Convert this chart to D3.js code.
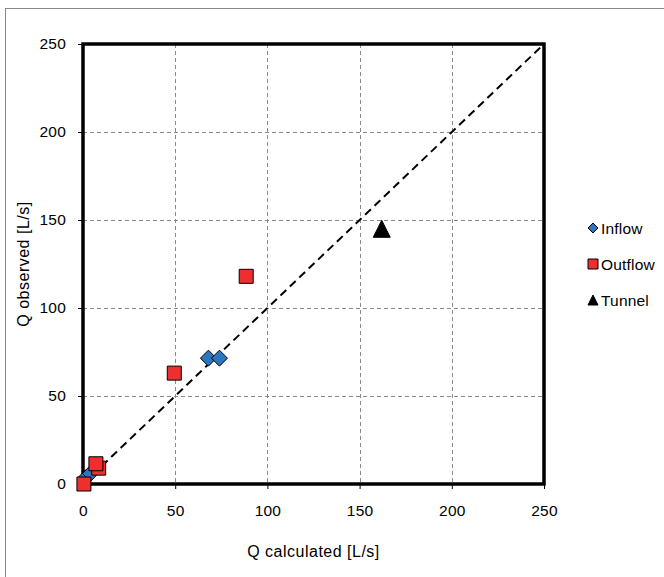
<!DOCTYPE html>
<html>
<head>
<meta charset="utf-8">
<script src="https://cdn.jsdelivr.net/npm/d3@7/dist/d3.min.js"></script>
<style>
  html, body { margin: 0; padding: 0; background: #fff; }
  svg { display: block; font-family: "Liberation Sans", Arial, sans-serif; }
</style>
</head>
<body>
<svg id="chart" width="664" height="577"></svg>
<script>
// ---- data ----
const inflowCalc  = [1.5, 4, 68, 74];
const inflowObs   = [3.5, 6, 71.5, 71.5];
const outflowCalc = [0.5, 8.5, 7, 49.5, 88.5];
const outflowObs  = [0, 9, 11.5, 63, 118];
const tunnelCalc  = [162];
const tunnelObs   = [145];
const xTicks = [0, 50, 100, 150, 200, 250];
const yTicks = [0, 50, 100, 150, 200, 250];
const seriesNames = ["Inflow", "Outflow", "Tunnel"];
const seriesColors = ["#2e75c0", "#ee2f2f", "#000000"];

// ---- layout ----
const svg = d3.select("#chart");
const L = 83, R = 544, T = 44, B = 484;
const x = d3.scaleLinear().domain([0, 250]).range([L, R]);
const y = d3.scaleLinear().domain([0, 250]).range([B, T]);

// outer chart border
svg.append("rect").attr("x", 5.5).attr("y", 8.5).attr("width", 700).attr("height", 600)
  .attr("fill", "none").attr("stroke", "#888").attr("stroke-width", 1);

// gridlines
const grid = svg.append("g");
grid.selectAll(".vg").data(xTicks.slice(1, -1)).enter().append("line")
  .attr("x1", d => Math.round(x(d)) + 0.5).attr("x2", d => Math.round(x(d)) + 0.5)
  .attr("y1", T).attr("y2", B)
  .attr("stroke", "#8a8a8a").attr("stroke-width", 1).attr("stroke-dasharray", "4,3");
grid.selectAll(".hg").data(yTicks.slice(1, -1)).enter().append("line")
  .attr("y1", d => Math.round(y(d)) + 0.5).attr("y2", d => Math.round(y(d)) + 0.5)
  .attr("x1", L).attr("x2", R)
  .attr("stroke", "#8a8a8a").attr("stroke-width", 1).attr("stroke-dasharray", "4,3");

// axes (ticks + labels)
const xAxis = d3.axisBottom(x).tickValues(xTicks).tickSize(5).tickPadding(12).tickFormat(d3.format("d"));
const yAxis = d3.axisLeft(y).tickValues(yTicks).tickSize(5).tickPadding(12).tickFormat(d3.format("d"));
const gx = svg.append("g").attr("transform", `translate(0,${B})`).call(xAxis);
const gy = svg.append("g").attr("transform", `translate(${L},0)`).call(yAxis);
[gx, gy].forEach(g => {
  g.select(".domain").remove();
  g.selectAll(".tick line").attr("stroke", "#000").attr("stroke-width", 1);
  g.selectAll(".tick text").attr("font-size", 15.5).attr("fill", "#000")
    .attr("letter-spacing", 0.2)
    .attr("font-family", "Liberation Sans, Arial, sans-serif");
});
gx.selectAll(".tick text").attr("dy", "0.71em").attr("y", 21);
gy.selectAll(".tick text").attr("x", -17);

// 1:1 line
svg.append("line")
  .attr("x1", x(0)).attr("y1", y(0)).attr("x2", x(250)).attr("y2", y(250))
  .attr("stroke", "#000").attr("stroke-width", 2).attr("stroke-dasharray", "8,5");

// plot area frame
svg.append("rect").attr("x", L).attr("y", T).attr("width", R - L).attr("height", B - T)
  .attr("fill", "none").attr("stroke", "#000").attr("stroke-width", 3.5);

// markers
const diamond = s => `M0,${-s}L${s},0L0,${s}L${-s},0Z`;
const square = s => `M${-s},${-s}H${s}V${s}H${-s}Z`;
const triangle = s => `M0,${-s}L${s},${s}L${-s},${s}Z`;

const pts = svg.append("g");
pts.selectAll(".in").data(d3.zip(inflowCalc, inflowObs)).enter().append("path")
  .attr("d", diamond(8))
  .attr("transform", d => `translate(${x(d[0])},${y(d[1])})`)
  .attr("fill", seriesColors[0]).attr("stroke", "#000").attr("stroke-width", 1);
pts.selectAll(".out").data(d3.zip(outflowCalc, outflowObs)).enter().append("path")
  .attr("d", square(7))
  .attr("transform", d => `translate(${x(d[0])},${y(d[1])})`)
  .attr("fill", seriesColors[1]).attr("stroke", "#000").attr("stroke-width", 1);
pts.selectAll(".tun").data(d3.zip(tunnelCalc, tunnelObs)).enter().append("path")
  .attr("d", triangle(8.5))
  .attr("transform", d => `translate(${x(d[0])},${y(d[1])})`)
  .attr("fill", seriesColors[2]).attr("stroke", "#000").attr("stroke-width", 1);

// axis titles
svg.append("text").attr("x", (L + R) / 2).attr("y", 557).attr("text-anchor", "middle")
  .attr("font-size", 16).attr("letter-spacing", 0.5).attr("fill", "#000").text("Q calculated [L/s]");
svg.append("text").attr("transform", `translate(29,${(T + B) / 2}) rotate(-90)`)
  .attr("text-anchor", "middle").attr("font-size", 16).attr("letter-spacing", 0.5)
  .attr("fill", "#000").text("Q observed [L/s]");

// legend
const legShapes = [diamond(5), square(5), triangle(5)];
const leg = svg.append("g");
seriesNames.forEach((name, i) => {
  const ly = 228 + i * 36;
  leg.append("path").attr("d", legShapes[i]).attr("transform", `translate(593,${ly})`)
    .attr("fill", seriesColors[i]).attr("stroke", "#000").attr("stroke-width", 1);
  leg.append("text").attr("x", 601).attr("y", ly + 5.5).attr("font-size", 15.5)
    .attr("letter-spacing", 0.2).attr("fill", "#000").text(name);
});
</script>
</body>
</html>
